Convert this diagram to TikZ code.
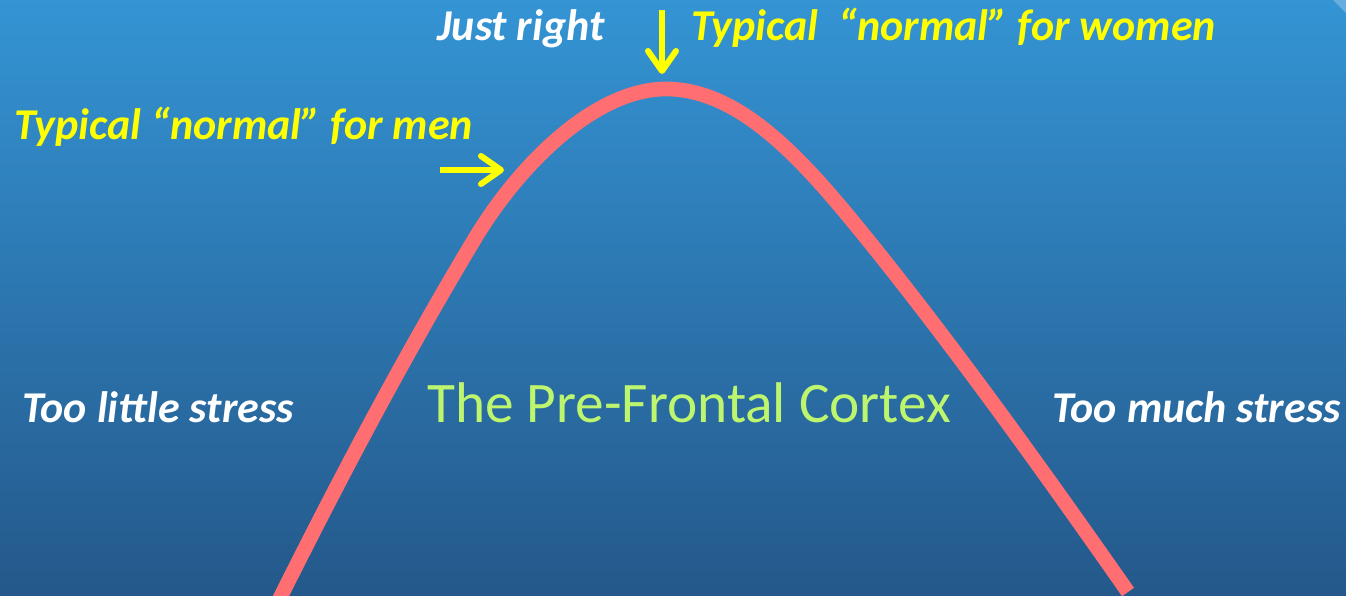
\documentclass[tikz,border=0pt]{standalone}
\usepackage{fontspec}
\setmainfont{Carlito}
\usetikzlibrary{arrows.meta}

\definecolor{bgtop}{RGB}{52,148,212}
\definecolor{bgbottom}{RGB}{36,88,138}
\definecolor{curvered}{RGB}{255,110,112}
\definecolor{labelyellow}{RGB}{255,255,0}
\definecolor{titlegreen}{RGB}{190,245,110}

\begin{document}
\begin{tikzpicture}[x=0.75pt,y=-0.75pt,
    every node/.style={inner sep=0pt, font=\fontsize{33}{38}\selectfont\bfseries\itshape},
    white label/.style={text=white, anchor=base west},
    yellow label/.style={text=labelyellow, anchor=base west},
    title/.style={text=titlegreen, anchor=base west,
      font=\fontsize{43}{48}\selectfont},
    pointer/.style={-{Straight Barb[length=15pt,width=21pt,round]},
      line width=4.5pt, labelyellow},
    bell/.style={curvered, line width=11pt, line join=round}
  ]

    % background
    \useasboundingbox (0,0) rectangle (1346,596);
    \fill[top color=bgtop, bottom color=bgbottom] (0,0) rectangle (1346,596);
    \fill[white, opacity=0.25] (1333,0) -- (1346,0) -- (1346,13) -- cycle;

    % the curve
    \draw[bell] (279,600) .. controls (339,480) and (402,360) .. (474,240)
      .. controls (520,163) and (596,89) .. (666,89)
      .. controls (746,89) and (813,172) .. (876,250)
      .. controls (964,360) and (1051,482) .. (1128,592);

    \node[white label] (justright) at (437,40) {Just right};
    \node[yellow label] (women) at (691,40) {Typical\ \ “normal” for women};
    \node[yellow label] (men) at (14,139) {Typical “normal” for men};
    \node[white label] (little) at (22,422) {Too little stress};
    \node[white label, anchor=base east] (much) at (1341,422) {Too much stress};
    \node[title] (cortex) at (427,422) {The Pre-Frontal Cortex};

    \coordinate (womentail) at (662,10);
    \coordinate (womentip) at (662,74);
    \coordinate (mentail) at (440,170);
    \coordinate (mentip) at (504,170);

    \draw[pointer] (womentail) -- (womentip);
    \draw[pointer] (mentail) -- (mentip);

  \end{tikzpicture}
\end{document}
